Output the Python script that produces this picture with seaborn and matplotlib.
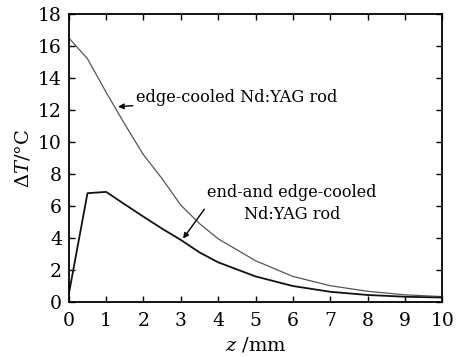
import matplotlib
matplotlib.use("Agg")
import matplotlib.pyplot as plt
import seaborn as sns
import pandas as pd

# Data
z_edge = [0, 0.5, 1.0, 1.5, 2.0, 2.5, 3.0, 3.5, 4.0, 5.0, 6.0, 7.0, 8.0, 9.0, 10.0]
dT_edge = [16.5, 15.2, 13.1, 11.1, 9.2, 7.7, 6.05, 4.9, 3.95, 2.58, 1.6, 1.02, 0.67, 0.45, 0.34]

z_end = [0, 0.5, 1.0, 1.5, 2.0, 2.5, 3.0, 3.5, 4.0, 5.0, 6.0, 7.0, 8.0, 9.0, 10.0]
dT_end = [0.5, 6.8, 6.88, 6.1, 5.33, 4.58, 3.88, 3.1, 2.48, 1.6, 1.0, 0.64, 0.44, 0.33, 0.28]

x_ticks = list(range(0, 11))
y_ticks = list(range(0, 19, 2))

label_edge = "edge-cooled Nd:YAG rod"
label_end = "end-and edge-cooled\nNd:YAG rod"

sns.set_style("ticks")
plt.rcParams['font.family'] = ['DejaVu Serif']
plt.rcParams['mathtext.fontset'] = 'dejavuserif'
plt.rcParams['text.color'] = 'black'

fig = plt.figure(figsize=(4.65, 3.57), dpi=100)
ax = fig.add_axes([0.148, 0.154, 0.803, 0.807])

df_edge = pd.DataFrame({"z": z_edge, "dT": dT_edge})
df_end = pd.DataFrame({"z": z_end, "dT": dT_end})
sns.lineplot(data=df_edge, x="z", y="dT", ax=ax, color="#555555", linewidth=0.9)
sns.lineplot(data=df_end, x="z", y="dT", ax=ax, color="#111111", linewidth=1.3)

ax.set_xlim(0, 10)
ax.set_ylim(0, 18)
ax.set_xticks(x_ticks)
ax.set_yticks(y_ticks)
ax.tick_params(axis="both", direction="in", top=True, right=True, length=4, width=1.0,
               labelsize=13.5, colors="black")
ax.tick_params(axis="x", pad=7)
ax.tick_params(axis="y", pad=5)
for s in ax.spines.values():
    s.set_linewidth(1.3)
    s.set_color("black")

ax.set_xlabel(r"$z$ /mm", fontsize=14, labelpad=4, color="black")
ax.set_ylabel(r"$\Delta T$/°C", fontsize=14, labelpad=4, color="black")

ax.annotate(label_edge, xy=(1.32, 12.2), xytext=(1.8, 12.75),
            fontsize=11.7, va="center", ha="left", color="black",
            arrowprops=dict(arrowstyle="-|>", color="black", lw=1.0,
                            mutation_scale=8, shrinkA=0, shrinkB=0))
ax.annotate(label_end, xy=(3.06, 3.96), xytext=(5.98, 4.95),
            fontsize=11.6, va="bottom", ha="center", multialignment="center",
            linespacing=1.35, color="black")
ax.annotate("", xy=(3.06, 3.96), xytext=(3.63, 5.8),
            arrowprops=dict(arrowstyle="-|>", color="black", lw=1.0,
                            mutation_scale=8, shrinkA=0, shrinkB=0))

fig.savefig("out.png", dpi=100)
